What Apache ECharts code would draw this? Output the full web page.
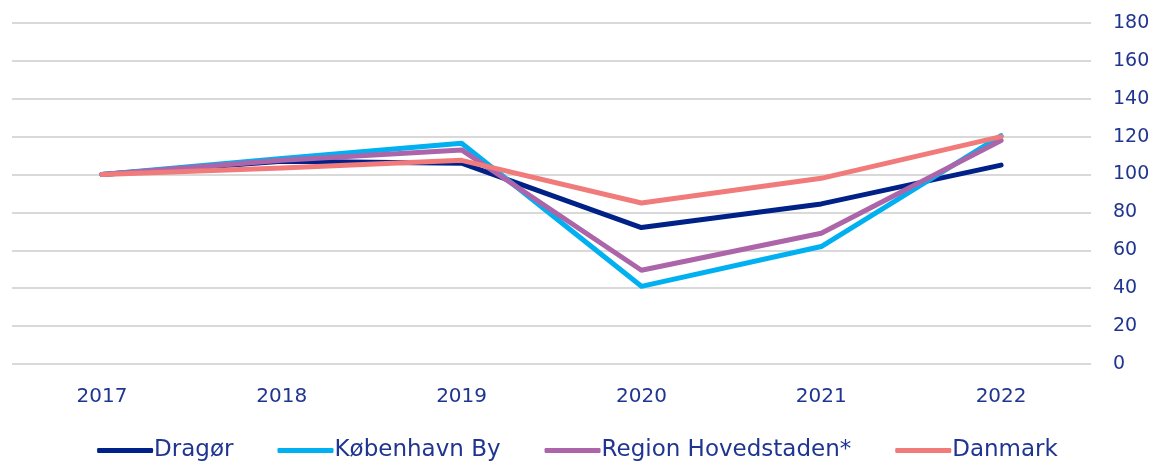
<!DOCTYPE html>
<html>
<head>
<meta charset="utf-8">
<script src="https://cdn.jsdelivr.net/npm/echarts@6/dist/echarts.min.js"></script>
<style>
  html, body { margin: 0; padding: 0; background: #fff; }
  #chart { width: 1155px; height: 461px; }
</style>
</head>
<body>
<div id="chart"></div>
<script>
// data
var years = ['2017', '2018', '2019', '2020', '2021', '2022'];
var dragoer = [100, 107, 106, 72, 84.5, 105];
var koebenhavn = [100, 108.5, 116.5, 41, 62, 120.5];
var region = [100, 107.5, 113, 49.5, 69, 118];
var danmark = [100, 103.5, 107.5, 85, 98, 120];

var textColor = '#1F3590';
var fontName = 'DejaVu Sans';

var chartDom = document.getElementById('chart');
var myChart = echarts.init(chartDom);

function mkLine(name, data, color) {
    return {
        name: name,
        type: 'line',
        data: data,
        symbol: 'none',
        smooth: false,
        itemStyle: { color: color },
        lineStyle: { width: 5, color: color, cap: 'round', join: 'round' }
    };
}

var option = {
    animation: false,
    textStyle: { fontFamily: fontName },
    grid: { left: 12, right: 64, top: 23, bottom: 97 },
    legend: {
        top: 434,
        left: 'center',
        icon: 'roundRect',
        itemWidth: 56,
        itemHeight: 5,
        itemGap: 44,
        textStyle: { color: textColor, fontSize: 23, fontFamily: fontName, padding: [0, 0, 0, -4] },
        data: ['Dragør', 'København By', 'Region Hovedstaden*', 'Danmark']
    },
    xAxis: {
        type: 'category',
        data: years,
        boundaryGap: true,
        axisLine: { show: false },
        axisTick: { show: false },
        axisLabel: { color: textColor, fontSize: 20, margin: 23 }
    },
    yAxis: {
        type: 'value',
        position: 'right',
        min: 0,
        max: 180,
        interval: 20,
        axisLine: { show: false },
        axisTick: { show: false },
        axisLabel: { color: textColor, fontSize: 19, margin: 22, align: 'left' },
        splitLine: { lineStyle: { color: '#D9D9D9', width: 2 } }
    },
    series: [
        mkLine('Dragør', dragoer, '#002288'),
        mkLine('København By', koebenhavn, '#00B0F0'),
        mkLine('Region Hovedstaden*', region, '#AD65AA'),
        mkLine('Danmark', danmark, '#F07B7A')
    ]
};

myChart.setOption(option);
</script>
</body>
</html>
